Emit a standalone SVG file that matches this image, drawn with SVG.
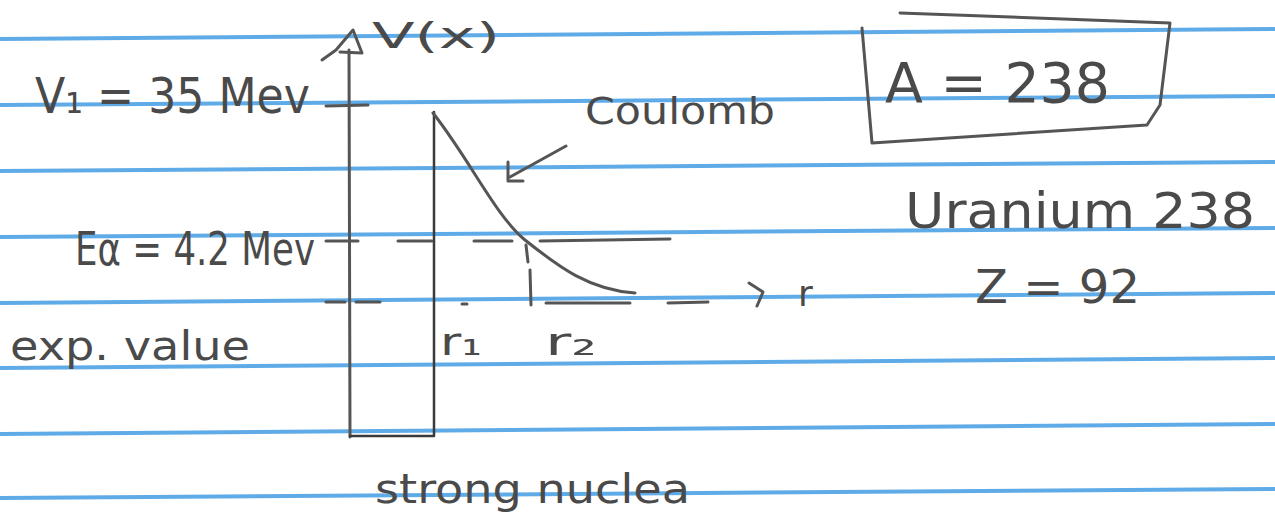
<svg xmlns="http://www.w3.org/2000/svg" width="1275" height="524" viewBox="0 0 1275 524">
<defs>
<style>
.rule{stroke:#5fabe8;stroke-width:4;fill:none}
.pen{stroke:#3a3a3a;stroke-width:2.5;fill:none;stroke-linecap:round;stroke-linejoin:round}
.pencil{stroke:#555;stroke-width:3;fill:none;stroke-linecap:round;stroke-linejoin:round}
.hand{font-family:"DejaVu Sans","Liberation Sans",sans-serif;fill:#4a4a4a}
</style>
</defs>
<rect width="1275" height="524" fill="#ffffff"/>
<g id="paper-lines">
<line class="rule" x1="0" y1="39" x2="1275" y2="29"/>
<line class="rule" x1="0" y1="105" x2="1275" y2="96"/>
<line class="rule" x1="0" y1="171" x2="1275" y2="162"/>
<line class="rule" x1="0" y1="237" x2="1275" y2="228"/>
<line class="rule" x1="0" y1="303" x2="1275" y2="293"/>
<line class="rule" x1="0" y1="368" x2="1275" y2="358"/>
<line class="rule" x1="0" y1="434" x2="1275" y2="424"/>
<line class="rule" x1="0" y1="498" x2="1275" y2="489"/>
</g>
<g id="axis">
<line class="pencil" x1="349" y1="50" x2="350" y2="437"/>
<path class="pencil" d="M322 60 L336 50 L353 30 L362 53 L340 52"/>
<line class="pencil" x1="326" y1="106" x2="368" y2="105"/>
<text class="hand" x="372" y="48" font-size="36" textLength="128" lengthAdjust="spacingAndGlyphs">V(x)</text>
</g>
<g id="well">
<path class="pen" d="M350 436 L434 436 L434 112"/>
</g>
<g id="coulomb-curve">
<path class="pencil" d="M433 113 C470 160 495 215 525 240 C560 268 590 290 635 293"/>
</g>
<g id="connectors">
<path class="pencil" d="M326 241 L358 241 M398 241 L432 241 M474 241 L512 241 M540 241 L670 239"/>
<path class="pencil" d="M526 245 L528 262 M530 270 L531 305"/>
<path class="pencil" d="M326 302 L345 302 M356 302 L380 302 M462 304 L467 304 M546 303 L630 303 M668 303 L708 302"/>
<path class="pencil" d="M749 283 L763 292 L757 306"/>
<path class="pencil" d="M566 146 L510 177 M508 162 L508 181 L523 181"/>
</g>
<g id="labels">
<text class="hand" x="35" y="113" font-size="50" textLength="275" lengthAdjust="spacingAndGlyphs">V₁ = 35 Mev</text>
<text class="hand" x="75" y="265" font-size="46" textLength="240" lengthAdjust="spacingAndGlyphs">Eα = 4.2 Mev</text>
<text class="hand" x="10" y="360" font-size="40" textLength="240" lengthAdjust="spacingAndGlyphs">exp. value</text>
<text class="hand" x="585" y="124" font-size="38" textLength="190" lengthAdjust="spacingAndGlyphs">Coulomb</text>
<text class="hand" x="440" y="355" font-size="38" textLength="42" lengthAdjust="spacingAndGlyphs">r₁</text>
<text class="hand" x="545" y="355" font-size="38" textLength="52" lengthAdjust="spacingAndGlyphs">r₂</text>
<text class="hand" x="798" y="306" font-size="36">r</text>
<text class="hand" x="375" y="503" font-size="40" textLength="315" lengthAdjust="spacingAndGlyphs">strong nuclea</text>
</g>
<g id="a-box">
<path class="pencil" d="M900 13 L1170 23 L1160 105 L1147 125 L872 143 L862 28"/>
<text class="hand" x="885" y="102" font-size="56" textLength="225" lengthAdjust="spacingAndGlyphs">A = 238</text>
</g>
<g id="uranium">
<text class="hand" x="905" y="228" font-size="50" textLength="350" lengthAdjust="spacingAndGlyphs">Uranium 238</text>
<text class="hand" x="975" y="303" font-size="46" textLength="165" lengthAdjust="spacingAndGlyphs">Z = 92</text>
</g>
</svg>
